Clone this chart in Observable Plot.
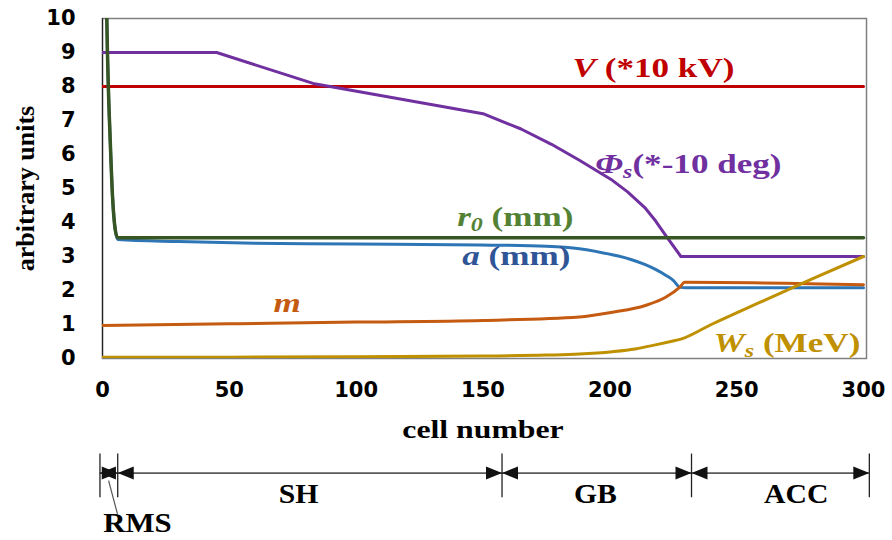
<!DOCTYPE html>
<html>
<head>
<meta charset="utf-8">
<script src="https://cdn.jsdelivr.net/npm/d3@7"></script>
<script src="https://cdn.jsdelivr.net/npm/@observablehq/plot@0.6"></script>
<style>
  body { margin: 0; background: #fff; }
  #chart svg { display: block; }
</style>
</head>
<body>
<div id="chart"></div>
<script>
// Inter-vane voltage V (x10 kV)
const vCells = [0, 300];
const vValues = [8, 8];
// Synchronous phase (x -10 deg)
const phiCells = [0, 45, 83, 150, 165, 177, 188, 201, 207, 214, 218, 222, 228, 300];
const phiValues = [9, 9, 8.09, 7.2, 6.75, 6.3, 5.83, 5.24, 4.9, 4.42, 4.05, 3.62, 3.0, 3.0];
// Mean aperture r0 (mm)
const r0Cells = [1, 1.7, 2.3, 3, 4, 5, 6, 300];
const r0Values = [15, 10, 8, 6.5, 4.7, 3.8, 3.55, 3.55];
// Minimum aperture a (mm)
const aCells = [1, 1.7, 2.3, 3, 4, 5, 6, 30, 60, 100, 149, 175, 188, 201, 208, 214, 218, 222, 225, 227.6, 230, 300];
const aValues = [15, 10, 8, 6.5, 4.7, 3.8, 3.5, 3.44, 3.39, 3.37, 3.34, 3.3, 3.23, 3.05, 2.92, 2.76, 2.62, 2.45, 2.3, 2.1, 2.08, 2.08];
// Modulation m
const mCells = [0, 50, 100, 150, 188, 201, 214, 222, 227.6, 229.5, 300];
const mValues = [0.97, 1.02, 1.07, 1.12, 1.22, 1.36, 1.56, 1.8, 2.1, 2.24, 2.17];
// Synchronous energy Ws (MeV)
const wCells = [0, 50, 100, 150, 175, 188, 201, 210, 218, 224, 228, 240, 260, 280, 300];
const wValues = [0.04, 0.04, 0.05, 0.07, 0.1, 0.13, 0.2, 0.28, 0.4, 0.5, 0.57, 1.0, 1.68, 2.35, 3.0];

// Curve labels
const labelNames = ["V (*10 kV)", "Φs(*-10 deg)", "r0 (mm)", "a (mm)", "m", "Ws (MeV)"];
const labelCells = [185.3, 194.3, 139.8, 141.8, 67.4, 240.9];
const labelValues = [8.29, 5.47, 3.91, 2.74, 1.36, 0.19];
const labelColors = ["#c00000", "#7030a0", "#548235", "#2f5597", "#c55a11", "#bf9000"];
// rich text pieces: i = italic, s = subscript
const labelMarkup = [
  [["V", "i"], [" (*10 kV)", ""]],
  [["Φ", "i"], ["s", "is"], ["(*-10 deg)", ""]],
  [["r", "i"], ["0", "is"], [" (mm)", ""]],
  [["a", "i"], [" (mm)", ""]],
  [["m", "i"]],
  [["W", "i"], ["s", "is"], [" (MeV)", ""]]
];

// Y and X tick values
const yTicks = [0, 1, 2, 3, 4, 5, 6, 7, 8, 9, 10];
const xTicks = [0, 50, 100, 150, 200, 250, 300];

// RFQ sections along the cell axis
const sectionNames = ["RMS", "SH", "GB", "ACC"];
const sectionStarts = [-1.0, 6.0, 157.5, 232.2];
const sectionEnds = [6.0, 157.5, 232.2, 302.3];
const sectionLabelAt = [13.8, 77.3, 194.3, 273.5];

const series = [
  {cells: vCells, values: vValues, color: "#c00000", width: 3, curve: "linear"},
  {cells: phiCells, values: phiValues, color: "#7030a0", width: 3, curve: "linear"},
  {cells: aCells, values: aValues, color: "#2e75b6", width: 3, curve: "monotone-x"},
  {cells: mCells, values: mValues, color: "#c55a11", width: 3, curve: "monotone-x"},
  {cells: r0Cells, values: r0Values, color: "#375623", width: 3.5, curve: "monotone-x"},
  {cells: wCells, values: wValues, color: "#bf9000", width: 3, curve: "monotone-x"}
];

const serif = "'Liberation Serif', 'Times New Roman', serif";
const sans = "'DejaVu Sans', Verdana, sans-serif";

const lineMarks = series.map(s =>
  Plot.line(s.cells.map((c, i) => ({cell: c, value: s.values[i]})), {
    x: "cell", y: "value", stroke: s.color, strokeWidth: s.width, curve: s.curve, clip: true
  })
);

const labelIndex = labelNames.map((_, i) => i);

const mainPlot = Plot.plot({
  width: 892,
  height: 445,
  marginLeft: 102,
  marginRight: 26,
  marginTop: 18,
  marginBottom: 87,
  x: {domain: [0, 300], insetRight: 3},
  y: {domain: [0, 10]},
  color: {type: "identity"},
  style: {fontFamily: sans, fontSize: "21px", fontWeight: "bold", color: "#000", background: "#fff"},
  marks: [
    Plot.frame({stroke: "#808080", strokeWidth: 1.5}),
    Plot.ruleX([0], {stroke: "#222", strokeWidth: 1.2}),
    ...lineMarks,
    Plot.text(labelIndex, {
      x: i => labelCells[i], y: i => labelValues[i], text: i => labelNames[i],
      fill: i => labelColors[i], textAnchor: "start", lineAnchor: "bottom",
      fontFamily: serif, fontWeight: "bold", fontSize: 27
    }),
    Plot.axisY({ticks: yTicks, tickFormat: d => d, tickSize: 0, tickPadding: 27, label: null,
      fontFamily: sans, fontWeight: "bold", fontSize: 21}),
    Plot.axisX({ticks: xTicks, tickFormat: d => d, tickSize: 0, tickPadding: 24, label: null,
      fontFamily: sans, fontWeight: "bold", fontSize: 21}),
    Plot.text(["cell number"], {x: 150, frameAnchor: "bottom", dy: 79, lineAnchor: "bottom",
      textAnchor: "middle", fontFamily: serif, fontWeight: "bold", fontSize: 25, fill: "#000"}),
    Plot.text(["arbitrary units"], {frameAnchor: "left", dx: -77, rotate: -90,
      textAnchor: "middle", lineAnchor: "middle", fontFamily: serif, fontWeight: "bold", fontSize: 26, fill: "#000"})
  ]
});

// Filled arrowheads with their tip at the anchor point
const headRight = {draw(ctx) { ctx.moveTo(0, 0); ctx.lineTo(-16, -6.5); ctx.lineTo(-16, 6.5); ctx.closePath(); }};
const headLeft = {draw(ctx) { ctx.moveTo(0, 0); ctx.lineTo(16, -6.5); ctx.lineTo(16, 6.5); ctx.closePath(); }};
const boundaries = [...sectionStarts, sectionEnds[sectionEnds.length - 1]];

// Section bar below the chart; y runs from 0 (top) to 1 (bottom)
const sectionPlot = Plot.plot({
  width: 892,
  height: 95,
  marginLeft: 102,
  marginRight: 26,
  marginTop: 0,
  marginBottom: 0,
  x: {domain: [0, 300], insetRight: 3, axis: null},
  y: {domain: [1, 0], axis: null},
  style: {background: "#fff"},
  marks: [
    Plot.ruleY([0.29], {x1: sectionStarts[0], x2: sectionEnds[sectionEnds.length - 1], stroke: "#595959", strokeWidth: 1.8}),
    Plot.ruleX(boundaries, {x: d => d, y1: 0.09, y2: 0.55, stroke: "#222", strokeWidth: 1.3}),
    Plot.dot(sectionStarts, {x: d => d, y: 0.29, symbol: headLeft, fill: "#111", stroke: "none"}),
    Plot.dot(sectionEnds, {x: d => d, y: 0.29, symbol: headRight, fill: "#111", stroke: "none"}),
    Plot.link([0], {x1: 2.4, y1: 0.37, x2: 5.9, y2: 0.72, stroke: "#555", strokeWidth: 1.2}),
    Plot.text(sectionNames, {
      x: (d, i) => sectionLabelAt[i], y: (d, i) => (i === 0 ? 0.915 : 0.6), text: d => d,
      textAnchor: "middle", lineAnchor: "bottom", fontFamily: serif, fontWeight: "bold",
      fontSize: (d, i) => (i === 0 ? 28 : 27), fill: "#000"
    })
  ]
});

const root = document.getElementById("chart");
root.append(mainPlot, sectionPlot);

const SVGNS = "http://www.w3.org/2000/svg";
function stretch(el, k) {
  const len = el.getComputedTextLength();
  el.setAttribute("textLength", (len * k).toFixed(1));
  el.setAttribute("lengthAdjust", "spacingAndGlyphs");
}

root.querySelectorAll("text").forEach(t => {
  const s = t.textContent;
  const li = labelNames.indexOf(s);
  if (li >= 0) {
    const fs = 27;
    while (t.firstChild) t.removeChild(t.firstChild);
    let shifted = false;
    for (const [str, style] of labelMarkup[li]) {
      const ts = document.createElementNS(SVGNS, "tspan");
      ts.textContent = str;
      if (style.includes("i")) ts.setAttribute("font-style", "italic");
      if (style.includes("s")) {
        ts.setAttribute("font-size", (fs * 0.68).toFixed(1));
        ts.setAttribute("dy", (fs * 0.2).toFixed(1));
        shifted = true;
      } else if (shifted) {
        ts.setAttribute("dy", (-fs * 0.2).toFixed(1));
        shifted = false;
      }
      t.appendChild(ts);
    }
    stretch(t, 1.3);
  } else if (s === "cell number") {
    stretch(t, 1.27);
  } else if (sectionNames.includes(s)) {
    stretch(t, 1.1);
  }
});
</script>
</body>
</html>
